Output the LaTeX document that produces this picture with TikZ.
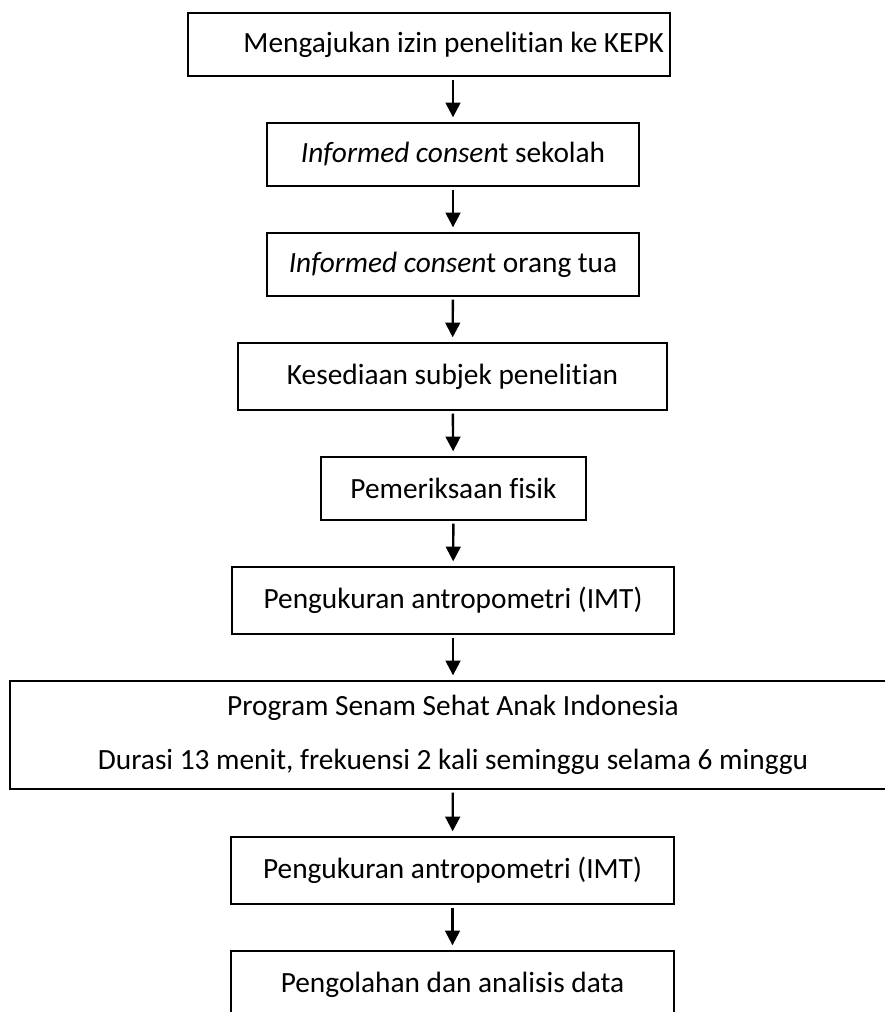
\documentclass[tikz,border=0pt]{standalone}
\usepackage{fontspec}
\setmainfont[Ligatures=NoCommon]{Carlito}
\usetikzlibrary{arrows.meta}

\tikzset{
  box/.style={draw, line width=1.5pt, minimum height=47.25pt, inner sep=0pt,
    font=\fontsize{22}{26.4}\selectfont},
  arr/.style={-{Triangle[length=11pt,width=11pt]}, line width=1.8pt,
    shorten <=2pt, shorten >=3.5pt}
}

\begin{document}
\begin{tikzpicture}[x=0.75pt,y=-0.75pt]
      \useasboundingbox (0,0) rectangle (884,1012);
      % boxes
      \node[box, text width=352.5pt, inner xsep=4.5pt, align=flush right] (kepk) at (429,44.5) {Mengajukan izin penelitian ke KEPK};
      \node[box, minimum width=279pt] (sekolah) at (453,154.5) {\textit{Informed consen}t sekolah};
      \node[box, minimum width=279pt] (orangtua) at (453,264.5) {\textit{Informed consen}t orang tua};
      \node[box, minimum width=321.75pt, minimum height=50.25pt] (subjek) at (452.5,376.5) {Kesediaan subjek penelitian};
      \node[box, minimum width=198.75pt] (fisik) at (453.5,488.5) {Pemeriksaan fisik};
      \node[box, minimum width=331.5pt, minimum height=50.25pt] (imtpre) at (453,600.5) {Pengukuran antropometri (IMT)};
      \node[box, minimum width=664.5pt, minimum height=81pt, align=center] (senam) at (453,735)
            {Program Senam Sehat Anak Indonesia\\[14.1pt]Durasi 13 menit, frekuensi 2 kali seminggu selama 6 minggu};
      \node[box, minimum width=332.25pt, minimum height=50.25pt] (imtpost) at (452.5,870.5) {Pengukuran antropometri (IMT)};
      \node[box, minimum width=332.25pt, minimum height=50.25pt] (analisis) at (452.5,984.5) {Pengolahan dan analisis data};
      % arrows
      \draw[arr] (kepk.south -| sekolah.north) -- (sekolah.north);
      \draw[arr] (sekolah) -- (orangtua);
      \draw[arr] (orangtua) -- (subjek);
      \draw[arr] (subjek) -- (fisik);
      \draw[arr] (fisik) -- (imtpre);
      \draw[arr] (imtpre) -- (senam);
      \draw[arr] (senam) -- (imtpost);
      \draw[arr] (imtpost) -- (analisis);
\end{tikzpicture}
\end{document}
